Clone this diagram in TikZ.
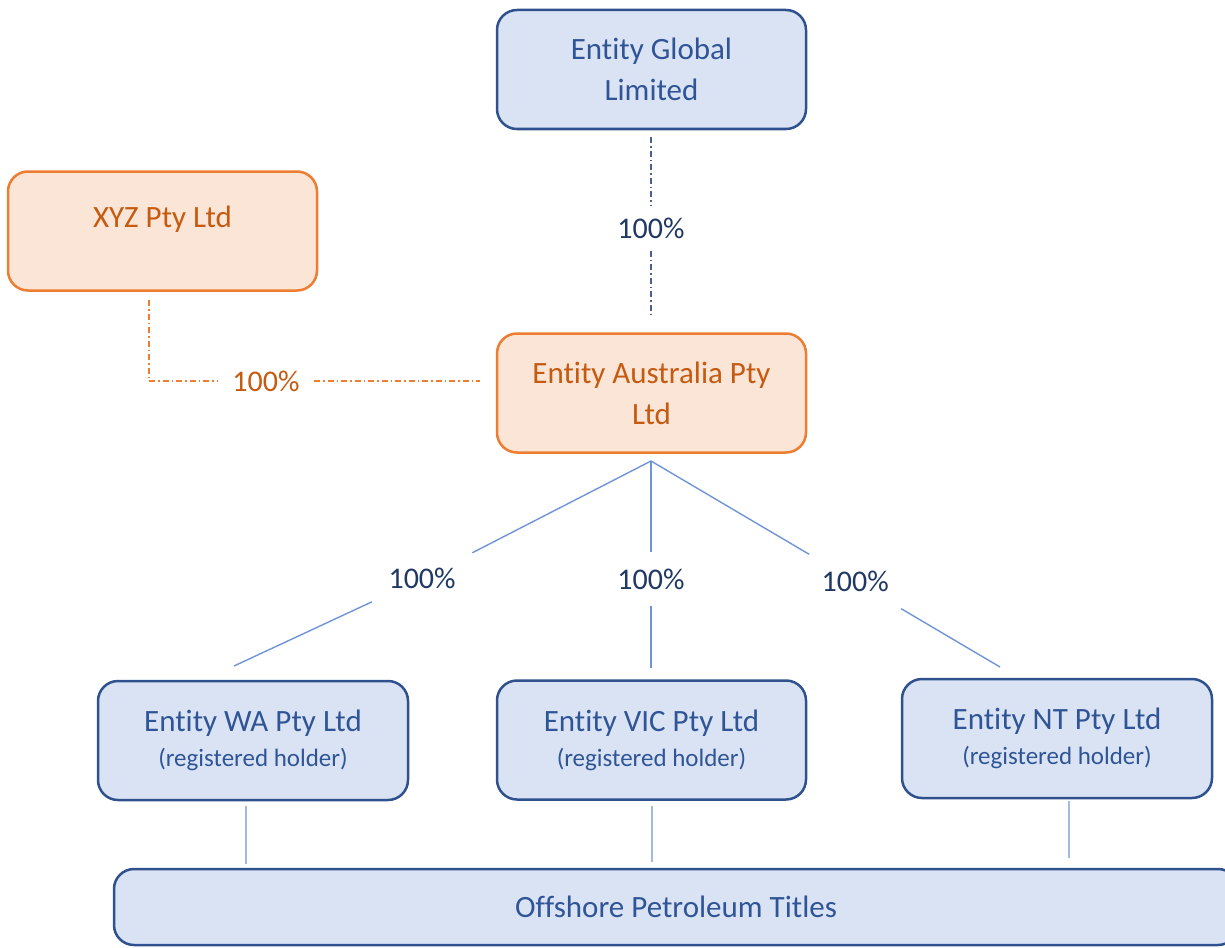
\documentclass[tikz,border=0pt]{standalone}
\usepackage{fontspec}
\setmainfont{Carlito}[Ligatures={NoCommon,NoRequired,NoContextual}]
\usetikzlibrary{calc}
\definecolor{bfill}{HTML}{DAE3F3}
\definecolor{bdraw}{HTML}{2F528F}
\definecolor{btext}{HTML}{2F5597}
\definecolor{ofill}{HTML}{FBE5D6}
\definecolor{odraw}{HTML}{ED7D31}
\definecolor{otext}{HTML}{C55A11}
\definecolor{lnblue}{HTML}{7094D8}
\definecolor{lnlight}{HTML}{A3B9E4}
\definecolor{navy}{HTML}{203864}
\definecolor{gdashc}{HTML}{4A6090}
\begin{document}
\begin{tikzpicture}[x=1pt,y=-1pt,
  entbox/.style={draw, rounded corners=20pt, line width=2.5pt, minimum width=309pt,
    minimum height=119pt, inner sep=0pt, align=center,
    font=\fontsize{31}{41}\selectfont},
  bluebox/.style={entbox, draw=bdraw, fill=bfill, text=btext},
  orangebox/.style={entbox, draw=odraw, fill=ofill, text=otext},
  pctlbl/.style={inner sep=0pt, minimum width=100pt, minimum height=54pt,
    font=\fontsize{30}{36}\selectfont, text=navy},
  fanline/.style={draw=lnblue, line width=1.4pt},
  downline/.style={draw=lnlight, line width=2pt},
  gdash/.style={draw=gdashc, line width=1.5pt, dash pattern=on 6pt off 3pt on 1.5pt off 3pt},
  odash/.style={draw=odraw, line width=1.5pt, dash pattern=on 6pt off 3pt on 1.5pt off 3pt}
]
\useasboundingbox (0,0) rectangle (1225,947);
\clip (0,0) rectangle (1225,947);

% entity boxes
\node[bluebox] (glob) at (651.5,69.5) {Entity Global\\Limited};
\node[orangebox] (xyz) at (162.5,231) {};
\node[text=otext, font=\fontsize{31}{41}\selectfont] (xyztxt) at (162.5,219) {XYZ Pty Ltd};
\node[orangebox] (aus) at (651.5,393) {Entity Australia Pty\\Ltd};
\node[bluebox, minimum width=310pt] (wa) at (253,740.5)
  {Entity WA Pty Ltd\\[-6pt]{\fontsize{25}{30}\selectfont (registered holder)}};
\node[bluebox] (vic) at (651.5,740)
  {Entity VIC Pty Ltd\\[-6pt]{\fontsize{25}{30}\selectfont (registered holder)}};
\node[bluebox, minimum width=310pt] (nt) at (1057,738.5)
  {Entity NT Pty Ltd\\[-6pt]{\fontsize{25}{30}\selectfont (registered holder)}};
\node[bluebox, minimum width=1124pt, minimum height=76pt] (off) at (676,907)
  {Offshore Petroleum Titles};

% Global -> Australia
\coordinate (globb) at (651,137);
\coordinate (aust) at (651,318);
\node[pctlbl, minimum height=45pt] (gl) at (651,228) {100\%};
\draw[gdash] (globb) -- (gl);
\draw[gdash] (gl) -- (aust);

% XYZ -> Australia
\coordinate (xyzb) at (149,300);
\coordinate (xcorner) at (149,381);
\coordinate (ausl) at (480,381);
\node[pctlbl, minimum width=96pt, text=otext] (xl) at (266,381) {100\%};
\draw[odash] (xyzb) -- (xcorner) -- (xl);
\draw[odash] (xl) -- (ausl);

% Australia -> subsidiaries
\coordinate (ausb) at (651,461);
\coordinate (waT) at (234,666);
\coordinate (vicT) at (651,668);
\coordinate (ntT) at (1000,667);
\path (ausb) -- (waT) node[pctlbl, pos=0.549, yshift=-5pt] (l1) {100\%};
\path (ausb) -- (vicT) node[pctlbl, pos=0.57] (l2) {100\%};
\path (ausb) -- (ntT) node[pctlbl, pos=0.585] (l3) {100\%};
\draw[fanline] (ausb) -- (l1);
\draw[fanline] (l1) -- (waT);
\draw[fanline] (ausb) -- (l2);
\draw[fanline] (l2) -- (vicT);
\draw[fanline] (ausb) -- (l3);
\draw[fanline] (l3) -- (ntT);

% subsidiaries -> titles
\coordinate (wab) at (246,806);
\coordinate (offwa) at (246,864);
\coordinate (vicb) at (652,806);
\coordinate (offvic) at (652,862);
\coordinate (ntb) at (1069,801);
\coordinate (offnt) at (1069,858);
\draw[downline] (wab) -- (offwa);
\draw[downline] (vicb) -- (offvic);
\draw[downline] (ntb) -- (offnt);
\end{tikzpicture}
\end{document}
